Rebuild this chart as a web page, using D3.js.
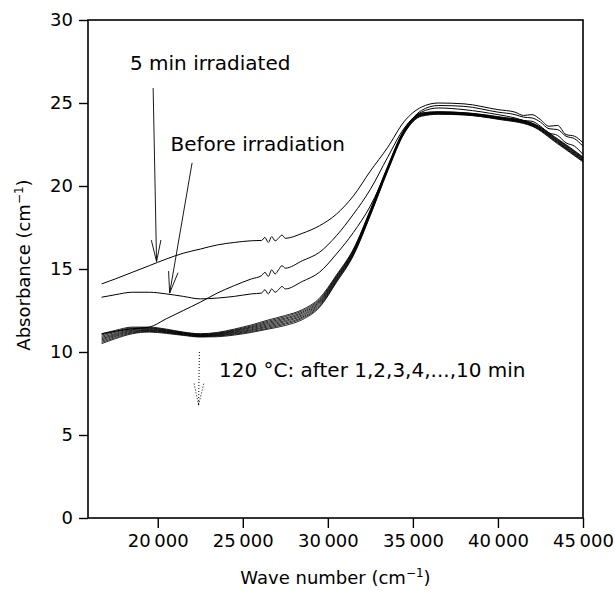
<!DOCTYPE html>
<html>
<head>
<meta charset="utf-8">
<script src="https://cdn.jsdelivr.net/npm/d3@7/dist/d3.min.js"></script>
<style>
  html, body { margin: 0; padding: 0; background: #fff; }
  svg { display: block; }
</style>
</head>
<body>
<div id="chart"></div>
<script>
'use strict';

// wave numbers (cm-1) for the three upper spectra (finer where they are noisy)
var waveUpper = [16700, 17500, 18500, 19500, 20500, 21500, 22500, 23500, 24500, 25500, 26100, 26300, 26500,
  26700, 26900, 27100, 27300, 27500, 28500, 29500, 30500, 31500, 32500, 33500, 34500, 35500, 36500, 38000,
  40000, 41000, 41500, 42000, 42500, 43000, 43500, 44000, 44500, 45000];

var irradiated5 = [14.1, 14.4, 14.8, 15.2, 15.6, 15.95, 16.2, 16.45, 16.6, 16.7, 16.72, 16.9, 16.6,
  16.95, 16.7, 16.85, 17.05, 16.85, 17.15, 17.6, 18.3, 19.4, 20.9, 22.3, 23.9, 24.75, 25.0, 24.95,
  24.6, 24.45, 24.25, 24.3, 24.0, 23.6, 23.65, 23.1, 23.0, 22.6];
var beforeIrr = [13.3, 13.45, 13.6, 13.6, 13.5, 13.35, 13.2, 13.25, 13.35, 13.5, 13.55, 13.75, 13.5,
  13.8, 13.6, 13.75, 13.95, 13.8, 14.25, 14.8, 15.9, 17.2, 18.8, 21.0, 23.3, 24.55, 24.85, 24.8,
  24.45, 24.3, 24.15, 24.1, 23.85, 23.45, 23.4, 23.0, 22.85, 22.4];
var heated1 = [11.1, 11.25, 11.4, 11.5, 12.0, 12.5, 13.0, 13.55, 14.0, 14.4, 14.6, 14.8, 14.55,
  14.95, 14.7, 14.95, 15.2, 15.05, 15.5, 16.0, 17.0, 18.3, 19.8, 21.7, 23.5, 24.45, 24.7, 24.6,
  24.3, 24.1, 23.95, 23.9, 23.6, 23.2, 23.05, 22.6, 22.4, 21.9];

// wave numbers for the bundle of spectra after 2..10 min at 120 C
var waveBundle = [16700, 17500, 18500, 19500, 20500, 21500, 22500, 23500, 24500, 25500, 26500, 27500, 28500,
  29500, 30500, 31500, 32500, 33500, 34500, 35500, 36500, 38000, 40000, 42000, 43500, 45000];

var heated2 = [11.1, 11.3, 11.5, 11.5, 11.38, 11.2, 11.1, 11.18, 11.38, 11.63, 11.93, 12.2, 12.55,
  13.23, 14.63, 16.2, 18.58, 21.15, 23.43, 24.4, 24.48, 24.42, 24.18, 23.8, 22.85, 21.75];
var heated3 = [11.03, 11.24, 11.45, 11.46, 11.34, 11.18, 11.08, 11.14, 11.33, 11.57, 11.86, 12.13, 12.48,
  13.16, 14.57, 16.15, 18.53, 21.11, 23.39, 24.38, 24.46, 24.41, 24.16, 23.78, 22.81, 21.71];
var heated4 = [10.95, 11.18, 11.4, 11.43, 11.31, 11.15, 11.05, 11.11, 11.29, 11.51, 11.79, 12.05, 12.4,
  13.09, 14.51, 16.1, 18.49, 21.08, 23.36, 24.35, 24.44, 24.39, 24.14, 23.75, 22.78, 21.68];
var heated5 = [10.88, 11.11, 11.35, 11.39, 11.28, 11.13, 11.03, 11.08, 11.25, 11.46, 11.72, 11.98, 12.33,
  13.02, 14.46, 16.05, 18.44, 21.04, 23.33, 24.33, 24.42, 24.37, 24.12, 23.73, 22.74, 21.64];
var heated6 = [10.8, 11.05, 11.3, 11.35, 11.25, 11.1, 11.0, 11.05, 11.2, 11.4, 11.65, 11.9, 12.25,
  12.95, 14.4, 16.0, 18.4, 21.0, 23.3, 24.3, 24.4, 24.35, 24.1, 23.7, 22.7, 21.6];
var heated7 = [10.73, 10.99, 11.25, 11.31, 11.22, 11.08, 10.98, 11.02, 11.16, 11.34, 11.58, 11.83, 12.18,
  12.88, 14.34, 15.95, 18.36, 20.96, 23.27, 24.28, 24.38, 24.33, 24.08, 23.68, 22.66, 21.56];
var heated8 = [10.65, 10.93, 11.2, 11.28, 11.19, 11.05, 10.95, 10.99, 11.11, 11.29, 11.51, 11.75, 12.1,
  12.81, 14.29, 15.9, 18.31, 20.93, 23.24, 24.25, 24.36, 24.31, 24.06, 23.65, 22.63, 21.53];
var heated9 = [10.58, 10.86, 11.15, 11.24, 11.16, 11.03, 10.93, 10.96, 11.07, 11.23, 11.44, 11.68, 12.03,
  12.74, 14.23, 15.85, 18.27, 20.89, 23.21, 24.23, 24.34, 24.29, 24.04, 23.63, 22.59, 21.49];
var heated10 = [10.5, 10.8, 11.1, 11.2, 11.12, 11.0, 10.9, 10.92, 11.02, 11.18, 11.38, 11.6, 11.95,
  12.68, 14.18, 15.8, 18.23, 20.85, 23.18, 24.2, 24.32, 24.28, 24.02, 23.6, 22.55, 21.45];

var xTicks = [20000, 25000, 30000, 35000, 40000, 45000];
var yTicks = [0, 5, 10, 15, 20, 25, 30];

(function () {
  var width = 615;
  var height = 591;
  var margin = { top: 20, right: 32, bottom: 73, left: 88 };
  var font = '"DejaVu Sans", "Liberation Sans", Arial, sans-serif';

  var series = [
    { wn: waveUpper, a: irradiated5, w: 1 },
    { wn: waveUpper, a: beforeIrr, w: 1 },
    { wn: waveUpper, a: heated1, w: 1 }
  ];
  [heated2, heated3, heated4, heated5, heated6, heated7, heated8, heated9, heated10].forEach(function (s) {
    series.push({ wn: waveBundle, a: s, w: 0.85 });
  });

  var x = d3.scaleLinear().domain([15900, 45000]).range([margin.left, width - margin.right]);
  var y = d3.scaleLinear().domain([0, 30]).range([height - margin.bottom, margin.top]);

  var svg = d3.select('#chart')
    .append('svg')
    .attr('width', width)
    .attr('height', height)
    .attr('viewBox', [0, 0, width, height]);

  // spectra
  var line = d3.line()
    .x(function (d) { return x(d[0]); })
    .y(function (d) { return y(d[1]); })
    .curve(d3.curveMonotoneX);

  svg.append('g')
    .selectAll('path')
    .data(series)
    .join('path')
    .attr('d', function (s) { return line(d3.zip(s.wn, s.a)); })
    .attr('fill', 'none')
    .attr('stroke', '#000')
    .attr('stroke-width', function (s) { return s.w; });

  // frame
  svg.append('rect')
    .attr('x', x(15900))
    .attr('y', y(30))
    .attr('width', x(45000) - x(15900))
    .attr('height', y(0) - y(30))
    .attr('fill', 'none')
    .attr('stroke', '#000')
    .attr('stroke-width', 1.6);

  function thousands(v) {
    var s = String(v);
    return s.slice(0, s.length - 3) + '\u2009' + s.slice(-3);
  }

  var xAxis = svg.append('g')
    .attr('transform', 'translate(0,' + y(0) + ')')
    .call(d3.axisBottom(x).tickValues(xTicks).tickSize(10).tickPadding(6).tickFormat(thousands));
  var yAxis = svg.append('g')
    .attr('transform', 'translate(' + x(15900) + ',0)')
    .call(d3.axisLeft(y).tickValues(yTicks).tickSize(9).tickPadding(6));

  [xAxis, yAxis].forEach(function (ax) {
    ax.select('.domain').remove();
    ax.selectAll('line').attr('stroke', '#000').attr('stroke-width', 1.4);
    ax.selectAll('text')
      .attr('fill', '#000')
      .attr('font-family', font)
      .attr('font-size', 18);
  });

  // axis titles
  var xt = svg.append('text')
    .attr('x', (x(15900) + x(45000)) / 2)
    .attr('y', 584)
    .attr('text-anchor', 'middle')
    .attr('font-family', font)
    .attr('font-size', 18);
  xt.append('tspan').text('Wave number (cm');
  xt.append('tspan').attr('dy', -7).attr('font-size', 12).text('\u22121');
  xt.append('tspan').attr('dy', 7).text(')');

  var yt = svg.append('text')
    .attr('transform', 'translate(30,' + ((y(0) + y(30)) / 2 - 4) + ') rotate(-90)')
    .attr('text-anchor', 'middle')
    .attr('font-family', font)
    .attr('font-size', 18);
  yt.append('tspan').text('Absorbance (cm');
  yt.append('tspan').attr('dy', -7).attr('font-size', 12).text('\u22121');
  yt.append('tspan').attr('dy', 7).text(')');

  // annotations
  function label(wn, a, txt) {
    svg.append('text')
      .attr('x', x(wn))
      .attr('y', y(a))
      .attr('font-family', font)
      .attr('font-size', 20)
      .attr('fill', '#000')
      .text(txt);
  }
  label(18370, 27.0, '5 min irradiated');
  label(20750, 22.1, 'Before irradiation');
  label(23600, 8.5, '120 \u00b0C: after 1,2,3,4,...,10 min');

  function arrow(x0, y0, x1, y1, dashed) {
    var px0 = x(x0), py0 = y(y0), px1 = x(x1), py1 = y(y1);
    var ang = Math.atan2(py1 - py0, px1 - px0);
    var len = 22, spread = 0.22;
    var g = svg.append('g')
      .attr('stroke', '#000')
      .attr('stroke-width', dashed ? 1 : 0.9)
      .attr('fill', 'none')
      .attr('stroke-dasharray', dashed ? '1,2' : null);
    g.append('line').attr('x1', px0).attr('y1', py0).attr('x2', px1).attr('y2', py1);
    [-spread, spread].forEach(function (s) {
      g.append('line')
        .attr('x1', px1 - len * Math.cos(ang + s))
        .attr('y1', py1 - len * Math.sin(ang + s))
        .attr('x2', px1)
        .attr('y2', py1);
    });
  }
  arrow(19730, 25.9, 19930, 15.45, false);
  arrow(22020, 21.4, 20700, 13.55, false);
  arrow(22450, 10.0, 22400, 6.8, true);
})();
</script>
</body>
</html>
